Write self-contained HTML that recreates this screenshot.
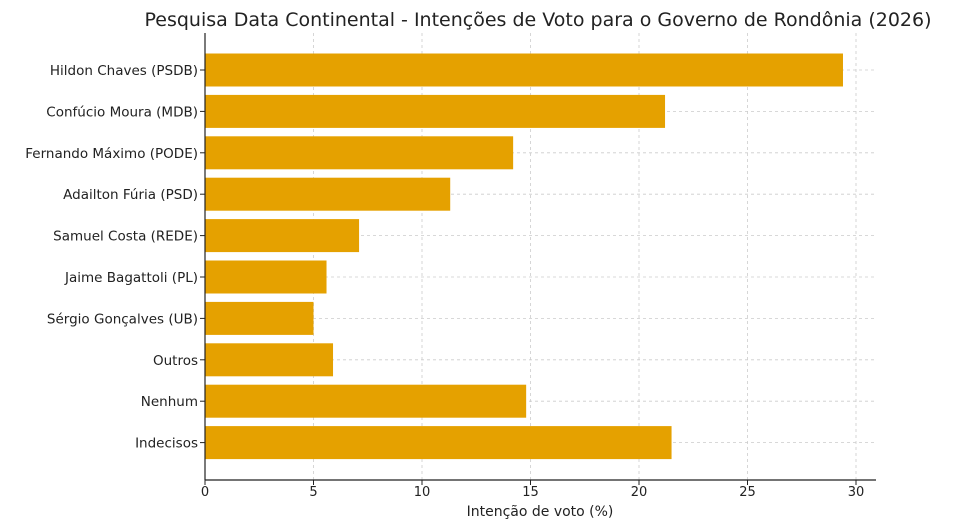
<!DOCTYPE html>
<html><head><meta charset="utf-8"><style>
body{margin:0;background:#fff;}
svg{display:block;font-family:"DejaVu Sans","Liberation Sans",sans-serif;}
</style></head><body>
<svg id="chart" width="960" height="525">
<text x="538" y="26" text-anchor="middle" font-size="19" fill="#222">Pesquisa Data Continental - Intenções de Voto para o Governo de Rondônia (2026)</text>
<g id="grid"></g><g id="bars"></g><g id="axes"></g>
<text x="540" y="516" text-anchor="middle" font-size="14" fill="#222">Intenção de voto (%)</text>
</svg>
<script>
const categories=["Hildon Chaves (PSDB)","Confúcio Moura (MDB)","Fernando Máximo (PODE)","Adailton Fúria (PSD)","Samuel Costa (REDE)","Jaime Bagattoli (PL)","Sérgio Gonçalves (UB)","Outros","Nenhum","Indecisos"];
const values=[29.4,21.2,14.2,11.3,7.1,5.6,5.0,5.9,14.8,21.5];
const ticks=[0,5,10,15,20,25,30];
const NS="http://www.w3.org/2000/svg";
const X0=205,X1=856,XMAX=30,TOP=33,BOT=480,RIGHT=876;
const x=v=>X0+(X1-X0)*v/XMAX;
const step=(BOT-TOP)/categories.length*0.97;
const y=i=>70+i*41.4;
function mk(t,a,p){const e=document.createElementNS(NS,t);for(const k in a)e.setAttribute(k,a[k]);p.appendChild(e);return e;}
const grid=document.getElementById('grid'),bars=document.getElementById('bars'),axes=document.getElementById('axes');
ticks.forEach(t=>{
 const g=mk('line',{x1:x(t),x2:x(t),y1:TOP,y2:BOT,stroke:'#ccc','stroke-dasharray':'3,3','stroke-width':0.8},grid);
 
 
 mk('line',{x1:x(t),x2:x(t),y1:BOT,y2:BOT+5,stroke:'#222'},axes);
 const tl=mk('text',{x:x(t),y:BOT+16,'text-anchor':'middle','font-size':13,fill:'#222'},axes);
 tl.textContent=t;
 
 
});
categories.forEach((c,i)=>{
 const gl=mk('line',{x1:X0,x2:RIGHT,y1:y(i),y2:y(i),stroke:'#ccc','stroke-dasharray':'3,3','stroke-width':0.8},grid);
 
 
 const r=mk('rect',{x:X0,y:y(i)-16.5,width:x(values[i])-X0,height:33,fill:'#E5A100'},bars);
 
 
 mk('line',{x1:X0-5,x2:X0,y1:y(i),y2:y(i),stroke:'#222'},axes);
 const l=mk('text',{x:X0-7,y:y(i)+5,'text-anchor':'end','font-size':13.5,fill:'#222'},axes);
 l.textContent=c;
 
 
});
const a1=mk('line',{x1:X0,x2:X0,y1:TOP,y2:BOT,stroke:'#222','stroke-width':1.2},axes);


const a2=mk('line',{x1:X0,x2:RIGHT,y1:BOT,y2:BOT,stroke:'#222','stroke-width':1.2},axes);


</script>
</body></html>
